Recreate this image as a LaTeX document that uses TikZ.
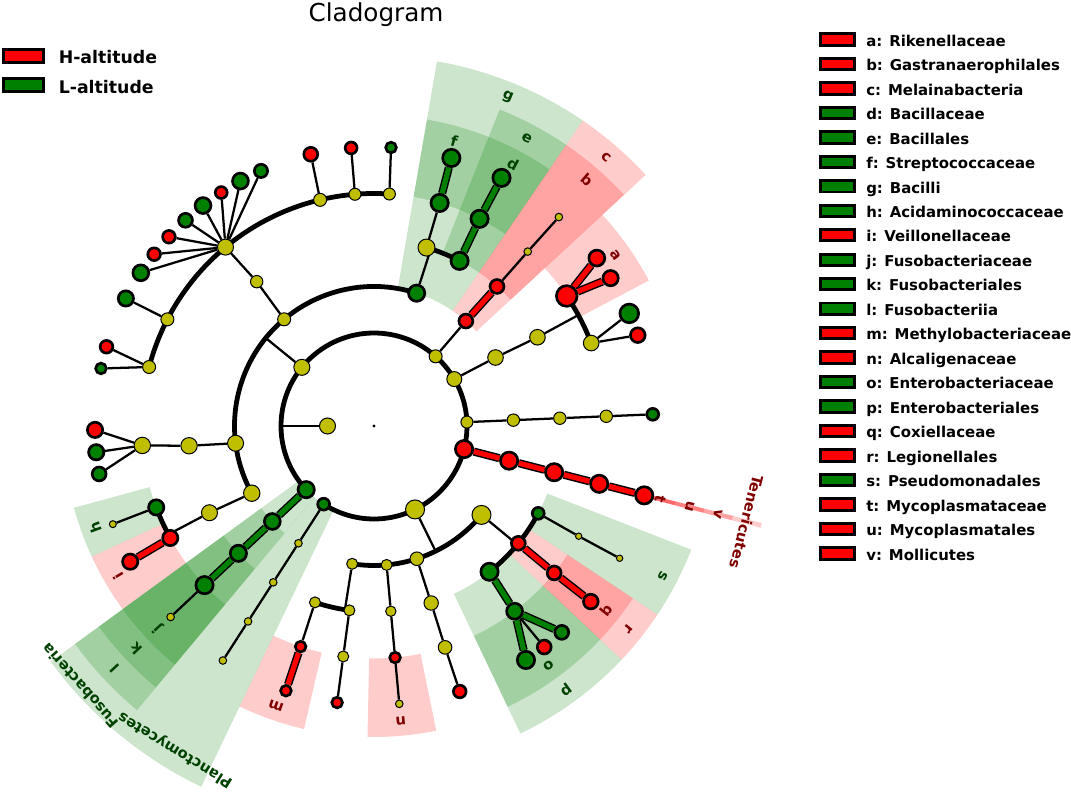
\documentclass[tikz,border=0pt]{standalone}
\usepackage{fontspec}
\setmainfont{DejaVu Sans}
\pgfdeclarelayer{secs}
\pgfdeclarelayer{lines}
\pgfsetlayers{secs,lines,main}
\definecolor{ylw}{RGB}{191,191,0}
\definecolor{grn}{RGB}{0,128,0}
\definecolor{hred}{RGB}{255,0,0}
\definecolor{lblred}{RGB}{128,0,0}
\definecolor{lblgrn}{RGB}{0,64,0}
\tikzset{
  ny/.style={circle, draw=black, fill=ylw, line width=0.75pt, inner sep=0pt},
  nr/.style={circle, draw=black, fill=hred, line width=2pt, inner sep=0pt},
  ng/.style={circle, draw=black, fill=grn, line width=2pt, inner sep=0pt},
  twig/.style={line width=1.7pt},
  ring/.style={line width=3.6pt},
  redbar/.style={line width=1.1pt, double=hred, double distance=3.9pt},
  grnbar/.style={line width=1.1pt, double=grn, double distance=3.9pt},
  lbl/.style={font=\fontsize{11}{13}\selectfont\bfseries},
  keybox/.style={draw=black, line width=2.2pt, inner sep=0pt},
}
\begin{document}
\begin{tikzpicture}[x=0.75pt,y=0.75pt]
\useasboundingbox (0,0) rectangle (1071,793);
\begin{pgfonlayer}{secs}
  \fill[white] (0,0) rectangle (1071,793);
\end{pgfonlayer}
\node[font=\fontsize{18.5}{22}\selectfont, anchor=base] (title) at (376,771.3) {Cladogram};
\node[keybox, fill=hred, minimum width=30.2pt, minimum height=9.5pt] (keyH) at (23.4,736.9) {};
\node[keybox, fill=grn, minimum width=30.2pt, minimum height=9.5pt] (keyL) at (23.4,707.7) {};
\node[font=\fontsize{13}{15}\selectfont\bfseries, anchor=base west, inner sep=0pt] (txtH) at (58.5,729.7) {H-altitude};
\node[font=\fontsize{13}{15}\selectfont\bfseries, anchor=base west, inner sep=0pt] (txtL) at (58.5,699.7) {L-altitude};
\foreach \i/\lt/\txt/\col in {0/a/Rikenellaceae/hred, 1/b/Gastranaerophilales/hred, 2/c/Melainabacteria/hred,
    3/d/Bacillaceae/grn, 4/e/Bacillales/grn, 5/f/Streptococcaceae/grn, 6/g/Bacilli/grn,
    7/h/Acidaminococcaceae/grn, 8/i/Veillonellaceae/hred, 9/j/Fusobacteriaceae/grn,
    10/k/Fusobacteriales/grn, 11/l/Fusobacteriia/grn, 12/m/Methylobacteriaceae/hred,
    13/n/Alcaligenaceae/hred, 14/o/Enterobacteriaceae/grn, 15/p/Enterobacteriales/grn,
    16/q/Coxiellaceae/hred, 17/r/Legionellales/hred, 18/s/Pseudomonadales/grn,
    19/t/Mycoplasmataceae/hred, 20/u/Mycoplasmatales/hred, 21/v/Mollicutes/hred}{
  \node[keybox, fill=\col, minimum width=25pt, minimum height=8.5pt] (key\lt) at (837.5,{753.5-24.47*\i}) {};
  \node[font=\fontsize{11.2}{13}\selectfont\bfseries, anchor=base west, inner sep=0pt] (txt\lt) at (866,{746.8-24.47*\i}) {\lt: \txt};
}
\begin{scope}[shift={(374,367)}]
  \node[circle, fill=black, inner sep=0pt, minimum size=2.5pt] (root) at (0,0) {};
  \foreach \nm/\ang/\lev/\rad in {king/180/1/8.5, pFirm/140.9/2/8.5, pCyan/48.5/2/7, pBact/30.3/2/8,
      pX/2.4/2/6.5, pProt/-63.8/2/10, cClos/130.1/3/7, cErys/187.1/3/8.5, cNega/208.8/3/8.7,
      oLact/73.6/4/9, oClos/129.1/4/6.7, fHub/129.7/5/8.5, fC1/86.2/5/6.5, fC2/94.7/5/6.5,
      fC3/103.4/5/7, fC5/152.7/5/7, fC6/165.3/5/7, oErys/186.1/4/8.7, fErys/184.8/5/8.7,
      oNega/207.8/4/8.5, gAcid/200.6/6/4, gFuso/223.2/6/4.3, cPlan/237.2/3/4.3, oPlan/237.2/4/4.3,
      fPlan/237.2/5/4.3, gPlan/237.2/6/4.3, cAlph/-99/3/6, cBeta/-84.8/3/6, cDelt/-72.1/3/7.3,
      cGamm/-39.6/3/10, oA1/-108.5/4/6, oA2/-97.6/4/6, fA2/-97.6/5/6, oBeta/-84.8/4/5.7,
      gAlca/-84.8/6/4.3, oDelt/-72.1/4/7.7, fDelt/-72.2/5/7.3, fPseu/-28.3/5/3.7, gPseu/-28.3/6/3.7,
      cBact/29.4/3/8.3, oBact/28.5/4/8.3, fB2/20.9/5/8.3, cX/2.4/3/6.7, oX/2.4/4/6.7, fX/2.4/5/6.7,
      fGast/48.6/5/4.3, gGast/48.5/6/4.3}
    \node[ny, minimum size={(2*\rad-1)*0.75pt}] (\nm) at (\ang:{46.5*\lev}) {};
  \foreach \nm/\ang/\lev/\rad in {pTene/-14.4/2/10, cMoll/-14.4/3/10, oMyco/-14.4/4/10, fMyco/-14.4/5/10,
      gMyco/-14.4/6/10, gC2/94.7/6/7.3, gC3/103.1/6/8.3, gH3/123.2/6/7.3, gH6/137.3/6/7.7,
      gH7/142/6/7.7, gC6a/163.5/6/7.7, gE1/180.8/6/9, fVeil/208.8/5/9, gVeil/209.1/6/9,
      fMeth/-108.4/5/6.7, gMeth/-108.4/6/6.7, gA2/-97.6/6/6.7, fAlca/-84.8/5/6.7, gDelt/-72.1/6/7.7,
      gEnt2/-52.4/6/8.3, oLegi/-39.1/4/8.3, fCoxi/-39.2/5/8.3, gCoxi/-39/6/8.7, fRike/34/5/11.7,
      gRik1/37/6/9.3, gRik2/32/6/9, gB2/19/6/8.7, cMela/48.8/3/8.3, oGast/48.6/4/8.3}
    \node[nr, minimum size={(2*\rad-2.7)*0.75pt}] (\nm) at (\ang:{46.5*\lev}) {};
  \foreach \nm/\ang/\lev/\rad in {pFuso/223.2/2/9.5, pPlan/237.2/2/7.3, cBaci/72.2/3/9.5, oBaci/62.6/4/10,
      fStre/73.6/5/10, gStre/73.9/6/10, fBaci/63/5/10, gBaci/62.8/6/10, gC1/86.5/6/6.7,
      gH1/113.9/6/8, gH2/118.6/6/9.3, gH4/127.8/6/9.3, gH5/132.5/6/8.3, gH8/146.7/6/9.3,
      gC5/152.8/6/9, gC6b/168.1/6/6.7, gE2/185.4/6/9, gE3/189.9/6/8.3, fAcid/200.5/5/9,
      cFuso/223.2/3/9.3, oFuso/223.2/4/9.5, fFuso/223.2/5/10, oEnte/-51.6/4/10, fEnte/-52.8/5/9.3,
      gEnt1/-57/6/10, gEnt3/-47.7/6/8.3, oPseu/-28/4/7.3, gB1/23.8/6/10.7, gX/2.4/6/7.3}
    \node[ng, minimum size={(2*\rad-2.7)*0.75pt}] (\nm) at (\ang:{46.5*\lev}) {};
  \begin{pgfonlayer}{lines}
    \draw[ring] (223.2:93) arc[start angle=223.2, end angle=-122.8, radius=93];
    \draw[ring] (72.2:139.5) arc[start angle=72.2, end angle=208.8, radius=139.5];
    \draw[ring] (62.6:186) arc[start angle=62.6, end angle=73.6, radius=186];
    \draw[ring] (86.2:232.5) arc[start angle=86.2, end angle=165.3, radius=232.5];
    \draw[ring] (200.5:232.5) arc[start angle=200.5, end angle=208.8, radius=232.5];
    \draw[ring] (-99:139.5) arc[start angle=-99, end angle=-39.6, radius=139.5];
    \draw[ring] (-108.5:186) arc[start angle=-108.5, end angle=-97.6, radius=186];
    \draw[ring] (-51.6:186) arc[start angle=-51.6, end angle=-28, radius=186];
    \draw[ring] (20.9:232.5) arc[start angle=20.9, end angle=34, radius=232.5];
    \draw[twig] (king) -- (180:93);
    \draw[twig] (pFirm) -- (140.9:139.5);
    \draw[twig] (cBaci) -- (72.2:186);
    \draw[twig] (oNega) -- (207.8:232.5);
    \draw[twig] (pProt) -- (-63.8:139.5);
    \draw[twig] (cAlph) -- (-99:186);
    \draw[twig] (cGamm) -- (-39.6:186);
    \draw[twig] (oBact) -- (28.5:232.5);
    \foreach \u/\v in {cClos/oClos, oClos/fHub, fHub/gH1, fHub/gH2, fHub/gH3, fHub/gH4, fHub/gH5,
        fHub/gH6, fHub/gH7, fHub/gH8, fC1/gC1, fC2/gC2, fC3/gC3, fC5/gC5, fC6/gC6a, fC6/gC6b,
        cErys/oErys, oErys/fErys, fErys/gE1, fErys/gE2, fErys/gE3, cNega/oNega, fAcid/gAcid,
        oLact/fStre, fFuso/gFuso, pPlan/cPlan, cPlan/oPlan, oPlan/fPlan, fPlan/gPlan,
        oA1/fMeth, oA2/fA2, fA2/gA2, cBeta/oBeta, oBeta/fAlca, fAlca/gAlca, cDelt/oDelt,
        oDelt/fDelt, fDelt/gDelt, fEnte/gEnt2, oPseu/fPseu, fPseu/gPseu, pBact/cBact,
        cBact/oBact, fB2/gB1, fB2/gB2, pX/cX, cX/oX, oX/fX, fX/gX, pCyan/cMela, oGast/fGast,
        fGast/gGast}
      \draw[twig] (\u) -- (\v);
    \foreach \u/\v in {oBaci/fBaci, fBaci/gBaci, fStre/gStre, pFuso/cFuso, cFuso/oFuso,
        oFuso/fFuso, oEnte/fEnte, fEnte/gEnt1, fEnte/gEnt3}
      \draw[grnbar] (\u) -- (\v);
    \foreach \u/\v in {fVeil/gVeil, fMeth/gMeth, oLegi/fCoxi, fCoxi/gCoxi, fRike/gRik1,
        fRike/gRik2, cMela/oGast, pTene/cMoll, cMoll/oMyco, oMyco/fMyco, fMyco/gMyco}
      \draw[redbar] (\u) -- (\v);
  \end{pgfonlayer}
  \begin{pgfonlayer}{secs}
    \foreach \col/\ta/\tb/\ra/\rb in {hred/27.9/42.75/232.5/311, hred/42.75/55.65/186/340.5,
        hred/42.75/55.65/139.5/370, grn/55.65/68.35/232.5/311, grn/55.65/68.35/186/340.5,
        grn/68.35/80.2/232.5/311, grn/55.65/80.2/139.5/370, grn/195.25/204.85/232.5/311,
        hred/204.85/216.1/232.5/311, grn/216.1/230.15/232.5/311, grn/216.1/230.15/186/340.5,
        grn/216.1/230.15/139.5/370, grn/216.1/230.15/93/400, grn/230.15/244.4/93/400,
        hred/-115.6/-103/232.5/311, hred/-91.2/-78.45/232.5/311, grn/-64.55/-43.35/232.5/311,
        grn/-64.55/-43.35/186/340.5, hred/-43.35/-33.65/232.5/311, hred/-43.35/-33.65/186/340.5,
        grn/-33.65/-21.3/186/340.5, hred/-14.75/-14.05/232.5/311, hred/-14.75/-14.05/186/340.5,
        hred/-14.75/-14.05/139.5/370, hred/-14.75/-14.05/93/400}
      \fill[fill=\col, fill opacity=0.2] (\ta:\ra) arc[start angle=\ta, end angle=\tb, radius=\ra]
        -- (\tb:\rb) arc[start angle=\tb, end angle=\ta, radius=\rb] -- cycle;
    \foreach \lt/\ang/\rad/\col in {a/35.3/296.25/lblred, b/49.2/325.75/lblred, c/49.2/355.25/lblred,
        d/62/296.25/lblgrn, e/62/325.75/lblgrn, f/74.3/296.25/lblgrn, g/67.9/355.25/lblgrn,
        h/200.05/296.25/lblgrn, i/210.5/296.25/lblred, j/223.1/296.25/lblgrn, k/223.1/325.75/lblgrn,
        l/223.1/355.25/lblgrn, m/-109.3/296.25/lblred, n/-84.8/296.25/lblred, o/-53.95/296.25/lblgrn,
        p/-53.95/325.75/lblgrn, q/-38.5/296.25/lblred, r/-38.5/325.75/lblred, s/-27.5/325.75/lblgrn,
        t/-14.4/296.25/lblred, u/-14.4/325.75/lblred, v/-14.4/355.25/lblred}
      \node[lbl, text=\col, rotate=\ang-90] (lab\lt) at (\ang:\rad) {\lt};
    \node[lbl, text=lblgrn, rotate=131.5] (labFuso) at (221.5:392) {Fusobacteria};
    \node[lbl, text=lblgrn, rotate=148.5] (labPlan) at (238.5:380) {Planctomycetes};
    \node[lbl, text=lblred, rotate=-104.4] (labTene) at (-14.4:385) {Tenericutes};
  \end{pgfonlayer}
\end{scope}
\end{tikzpicture}
\end{document}
